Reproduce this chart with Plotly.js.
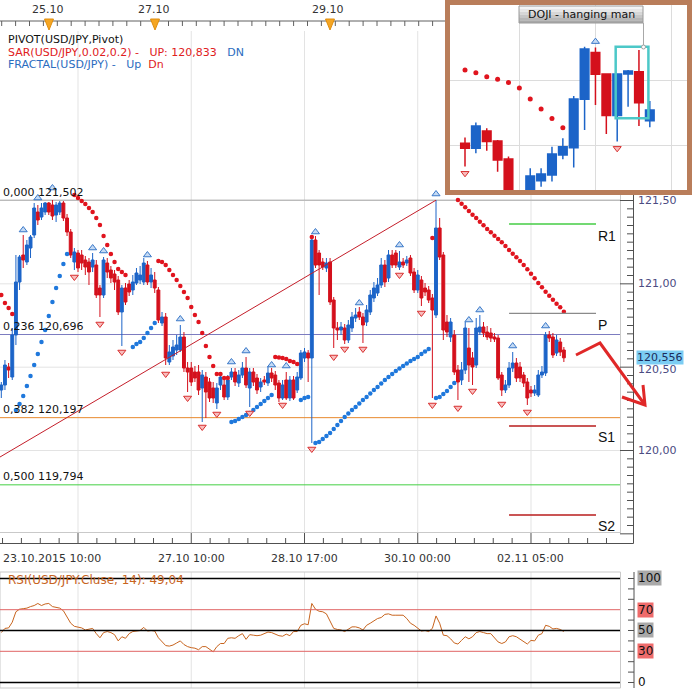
<!DOCTYPE html>
<html><head><meta charset="utf-8">
<script src="https://cdn.plot.ly/plotly-3.0.1.min.js"></script>
<style>html,body{margin:0;padding:0;background:#fff}#chart{width:692px;height:689px}</style>
</head><body><div id="chart"></div>
<script>
// ===================== DATA =====================
const open = [120.363,120.393,120.501,120.441,120.693,121.011,121.173,121.131,121.215,121.293,
121.431,121.401,121.431,121.485,121.473,121.413,121.431,121.485,121.395,121.311,
121.131,121.185,121.173,121.143,121.131,121.101,121.113,120.975,120.933,121.125,
121.083,121.059,121.023,120.831,120.975,120.999,120.963,121.005,121.023,121.011,
121.113,121.011,121.023,120.963,120.765,120.801,120.531,120.567,120.603,120.603,
120.681,120.495,120.495,120.471,120.471,120.375,120.441,120.411,120.375,120.285,
120.393,120.393,120.321,120.441,120.471,120.405,120.453,120.495,120.375,120.471,
120.435,120.381,120.423,120.405,120.465,120.453,120.405,120.315,120.423,120.315,
120.423,120.363,120.435,120.555,120.585,120.555,121.263,121.185,121.131,121.095,
121.131,120.903,120.735,120.723,120.735,120.663,120.735,120.795,120.831,120.801,
120.771,120.831,120.915,120.945,120.993,121.113,121.035,121.173,121.185,121.101,
121.131,121.125,121.155,121.071,120.963,121.023,120.975,120.963,120.915,120.813,
121.335,121.173,120.771,120.681,120.693,120.483,120.423,120.483,120.615,120.555,
120.513,120.711,120.741,120.711,120.705,120.681,120.675,120.453,120.363,120.393,
120.495,120.525,120.501,120.453,120.411,120.363,120.345,120.333,120.453,120.465,
120.693,120.681,120.585,120.651,120.603];
const high = [120.411,120.543,120.525,120.735,121.173,121.173,121.293,121.263,121.293,121.485,
121.473,121.485,121.491,121.491,121.503,121.491,121.497,121.497,121.419,121.329,
121.215,121.203,121.203,121.167,121.155,121.185,121.143,120.993,121.161,121.155,
121.107,121.083,121.047,120.993,121.005,121.023,121.053,121.095,121.107,121.155,
121.137,121.095,121.071,120.981,120.831,120.825,120.633,120.663,120.693,120.753,
120.711,120.531,120.531,120.507,120.513,120.483,120.471,120.435,120.411,120.405,
120.471,120.423,120.453,120.495,120.495,120.483,120.531,120.561,120.495,120.495,
120.459,120.435,120.447,120.507,120.495,120.477,120.423,120.423,120.471,120.447,
120.447,120.471,120.603,120.615,120.603,121.293,121.287,121.203,121.155,121.155,
121.155,120.921,120.771,120.771,120.759,120.783,120.831,120.855,120.861,120.825,
120.873,120.963,121.011,121.035,121.155,121.143,121.203,121.203,121.203,121.197,
121.155,121.167,121.173,121.095,121.083,121.047,121.005,120.987,120.939,121.503,
121.395,121.191,120.813,120.795,120.723,120.513,120.531,120.771,120.735,120.591,
120.795,120.813,120.771,120.747,120.735,120.705,120.693,120.471,120.423,120.531,
120.591,120.555,120.531,120.471,120.435,120.387,120.393,120.483,120.507,120.711,
120.717,120.705,120.693,120.675,120.621];
const low = [120.315,120.363,120.435,120.423,120.633,120.963,121.095,121.113,121.155,121.275,
121.353,121.383,121.413,121.413,121.383,121.371,121.413,121.377,121.287,121.155,
121.083,121.071,121.083,121.053,120.993,121.071,120.915,120.801,120.915,121.035,
121.005,120.963,120.813,120.627,120.873,120.927,120.933,120.993,120.999,120.993,
120.993,120.975,120.945,120.765,120.747,120.513,120.513,120.543,120.573,120.591,
120.471,120.351,120.387,120.411,120.333,120.171,120.195,120.291,120.285,120.249,
120.363,120.303,120.303,120.423,120.387,120.381,120.435,120.375,120.261,120.387,
120.339,120.351,120.393,120.387,120.411,120.363,120.291,120.303,120.303,120.297,
120.303,120.345,120.423,120.531,120.411,120.045,121.095,120.933,121.083,121.071,
120.873,120.615,120.663,120.693,120.639,120.645,120.711,120.771,120.783,120.645,
120.747,120.813,120.891,120.927,120.975,120.981,121.011,121.095,121.095,121.083,
121.095,121.107,121.047,120.945,120.945,120.867,120.927,120.885,120.315,120.795,
121.143,120.663,120.681,120.651,120.453,120.303,120.393,120.459,120.411,120.393,
120.495,120.693,120.681,120.663,120.651,120.651,120.423,120.327,120.345,120.375,
120.471,120.411,120.411,120.381,120.273,120.321,120.327,120.321,120.435,120.447,
120.651,120.555,120.567,120.567,120.531];
const close = [120.393,120.513,120.483,120.693,121.011,121.161,121.143,121.233,121.281,121.455,
121.383,121.455,121.485,121.431,121.407,121.473,121.485,121.395,121.311,121.173,
121.191,121.095,121.125,121.101,121.071,121.143,120.933,120.933,121.143,121.071,
121.035,121.011,120.831,120.975,120.891,120.951,121.011,121.065,121.053,121.125,
121.011,121.053,120.975,120.783,120.801,120.555,120.591,120.621,120.633,120.681,
120.495,120.471,120.411,120.435,120.363,120.453,120.351,120.315,120.315,120.375,
120.441,120.321,120.423,120.471,120.411,120.453,120.495,120.393,120.471,120.411,
120.363,120.411,120.411,120.465,120.435,120.393,120.315,120.393,120.315,120.423,
120.315,120.441,120.585,120.591,120.555,121.263,121.113,121.113,121.101,121.125,
120.891,120.735,120.723,120.741,120.663,120.753,120.801,120.813,120.801,120.753,
120.843,120.933,120.975,120.993,121.113,121.011,121.173,121.113,121.113,121.131,
121.113,121.143,121.065,120.963,121.053,120.915,120.951,120.903,120.843,121.335,
121.161,120.723,120.711,120.771,120.471,120.411,120.483,120.735,120.513,120.501,
120.735,120.741,120.705,120.681,120.675,120.669,120.435,120.363,120.393,120.495,
120.525,120.435,120.435,120.405,120.315,120.345,120.363,120.453,120.471,120.693,
120.675,120.573,120.663,120.591,120.556];

const sarRedBar = [0,1,2,3,20,21,22,23,24,25,26,27,28,29,30,31,32,33,34,
43,44,45,46,47,48,49,50,51,52,53,54,55,56,57,58,59,60,61,62,
75,76,77,78,79,80,81,85,118,
125,126,127,128,129,130,131,132,133,134,135,136,137,138,139,140,141,142,143,144,145,146,147,148,149,150,151,152,153,154];
const sarRedVal = [120.933,120.885,120.855,120.819,
121.533,121.515,121.497,121.479,121.455,121.431,121.395,121.353,121.287,121.233,121.179,121.131,121.089,121.071,121.053,
121.137,121.131,121.113,121.083,121.053,121.023,120.987,120.951,120.915,120.861,120.813,120.771,120.705,120.627,120.561,120.507,120.459,120.459,120.435,120.435,
120.561,120.558,120.555,120.549,120.537,120.531,120.519,121.281,121.275,
121.503,121.481,121.459,121.437,121.415,121.395,121.373,121.351,121.329,121.309,121.289,121.269,121.249,121.227,121.203,121.181,121.159,121.137,121.113,121.087,121.061,121.033,121.005,120.979,120.953,120.929,120.905,120.881,120.859,120.833];

const sarBlueBar = [4,5,6,7,8,9,10,11,12,13,14,15,16,17,18,
36,37,38,39,40,41,42,
63,64,65,66,67,68,69,70,71,72,73,74,
82,83,84,
86,87,88,89,90,91,92,93,94,95,96,97,98,99,100,101,102,103,104,105,106,107,108,109,110,111,112,113,114,115,116,117,
119,120,121,122,123,124];
const sarBlueVal = [120.243,120.279,120.327,120.387,120.447,120.513,120.579,120.651,120.723,120.807,120.891,120.975,121.047,121.119,121.179,
120.621,120.639,120.651,120.675,120.705,120.735,120.765,
120.171,120.177,120.189,120.201,120.213,120.225,120.243,120.261,120.279,120.297,120.315,120.333,
120.303,120.315,120.321,
120.045,120.051,120.069,120.087,120.105,120.129,120.153,120.177,120.201,120.222,120.243,120.261,120.282,120.303,120.321,120.342,120.363,120.381,120.402,120.423,120.441,120.459,120.477,120.492,120.507,120.522,120.537,120.549,120.561,120.579,120.594,120.609,
120.315,120.321,120.339,120.357,120.381,120.405];

const fracUpBar = [6,10,14,25,28,40,49,63,67,74,78,86,98,109,119,128,131,140,149];
const fracUpVal = [121.323,121.515,121.575,121.215,121.197,121.173,120.789,120.531,120.597,120.513,120.507,121.311,120.885,121.233,121.539,120.783,120.843,120.627,120.747];
const fracDnBar = [20,27,33,45,51,55,59,68,77,85,91,94,99,109,115,118,125,129,137,144];
const fracDnVal = [121.041,120.759,120.591,120.459,120.315,120.141,120.219,120.225,120.273,120.009,120.561,120.609,120.609,121.053,120.825,120.273,120.255,120.357,120.279,120.231];

const rsi = [48,52,52.5,58,68,70.5,71,71.5,73,74, 76,74,75.5,76,73,72,71.5,69,63,57,
54,53.5,52.5,50.5,51,52,47,43,48,49, 48,46,40,44,42.5,47,49,49.5,50,53,
49.5,50,49.5,43,39,35.5,35,36,38,40, 36.5,34.5,33.5,33,31.5,34.5,34.5,32,29.5,34.5,
37.5,37.5,42.5,43,42.5,45,47,41.5,46,45.5, 45,45.5,47,48.5,48,46.5,45,44.5,46.5,45,
49,49,55,56.5,55.5,76,70.5,68.5,68,66, 59,52,51,50.5,49,51.5,53.5,53.5,52.5,50.5,
55,57,59,61.5,62.5,65.5,66,64.7,64.7,64.7, 64.7,61.5,57,55,52,49.5,50,49,52,64,
57,45.5,45,42,38,37,40.5,44,42,44, 48,49,48,47,47,43.5,39,37.5,39,44,
45,44,41.5,39.5,37,40.5,40,45.5,47,55, 54,51.5,52,51,49.04];
const rsiLevels = [100,70,50,30,0];

const timeTickBars = [21,52,83,114,145];
const timeTickLabels = ['23.10.2015 10:00','27.10 10:00','28.10 17:00','30.10 00:00','02.11 05:00'];
const priceTicks = [120.0,120.5,121.0,121.5];
const priceTickLabels = ['120,00','120,50','121,00','121,50'];
const fibRatios = ['0,000','0,236','0,382','0,500'];
const fibPrices = [121.502,120.696,120.197,119.794];
const pivotNames = ['R1','P','S1','S2'];
const pivotPrices = [121.359,120.823,120.147,119.613];
const pivotBars = [139.0,162.8];
const trendBars = [-0.36,119.0];
const trendPrices = [119.961,121.502];
const topDates = ['25.10','27.10','29.10'];

// inset (pattern window)
const insetX = [0,1,2,3,4,6,7,8,9,10,11,12,13,14,15,16,17];
const insetO = [120.518,120.479,120.613,120.536,120.397,120.131,120.229,120.273,120.428,120.484,120.858,121.219,121.054,120.732,121.054,121.072,120.693];
const insetH = [120.562,120.678,120.634,120.544,120.415,120.325,120.325,120.492,120.557,120.884,121.265,121.258,121.059,121.059,121.085,121.239,120.845];
const insetL = [120.338,120.441,120.461,120.299,120.028,120.080,120.183,120.222,120.394,120.330,120.621,120.814,120.590,120.531,120.801,120.652,120.642];
const insetC = [120.479,120.652,120.531,120.389,120.054,120.265,120.281,120.436,120.492,120.861,121.247,121.051,120.732,121.054,121.077,120.832,120.776];
const insetSarX = [0,1,2,3,4,5,6,7,8,9];
const insetSarVal = [121.085,121.064,121.033,121.013,120.987,120.946,120.861,120.783,120.709,120.639];
const insetFracUpX = [12], insetFracUpVal = [121.304];
const insetFracDnX = [0,14], insetFracDnVal = [120.286,120.479];
const dojiBoxX = [13.86,16.87], dojiBoxY = [120.711,121.265];

// ===================== GEOMETRY =====================
const W=692,H=689;
const PLOT_R=621, MAIN_T=31, MAIN_B=533, RSI_T=572, RSI_B=688;
const X0=-0.356, X1=169.64, Y_TOP=122.517, Y_BOT=119.505, R_TOP=106.25, R_BOT=-5.29;
const px=v=>v/W, py=v=>1-v/H;
const xPix=b=>(b-X0)/(X1-X0)*PLOT_R;
const yPix=p=>MAIN_T+(Y_TOP-p)/(Y_TOP-Y_BOT)*(MAIN_B-MAIN_T);
const rPix=v=>RSI_T+(R_TOP-v)/(R_TOP-R_BOT)*(RSI_B-RSI_T);
const fmt=(v,d)=>v.toFixed(d).replace('.',',');

const BLUE='#1c64c8', RED='#d4101c';
const bars = open.map((_,i)=>i);
const upMarker={symbol:'triangle-up',size:7,color:'#c4daf4',line:{color:'#3a78c8',width:1}};
const dnMarker={symbol:'triangle-down',size:7,color:'#f8bcbc',line:{color:'#d83030',width:1}};

// ===================== TRACES =====================
const traces = [
 {type:'candlestick',x:bars,open:open,high:high,low:low,close:close,xaxis:'x',yaxis:'y',
  whiskerwidth:0,increasing:{line:{color:BLUE,width:1},fillcolor:BLUE},
  decreasing:{line:{color:RED,width:1},fillcolor:RED},hoverinfo:'skip'},
 {type:'scatter',mode:'lines',x:trendBars,y:trendPrices,xaxis:'x',yaxis:'y',line:{color:'#c41e2a',width:1},hoverinfo:'skip'},
 {type:'scatter',mode:'markers',x:sarRedBar,y:sarRedVal,xaxis:'x',yaxis:'y',marker:{color:'#e0141e',size:4.5},hoverinfo:'skip'},
 {type:'scatter',mode:'markers',x:sarBlueBar,y:sarBlueVal,xaxis:'x',yaxis:'y',marker:{color:'#1f78dc',size:4.5},hoverinfo:'skip'},
 {type:'scatter',mode:'markers',x:fracUpBar,y:fracUpVal,xaxis:'x',yaxis:'y',marker:upMarker,hoverinfo:'skip'},
 {type:'scatter',mode:'markers',x:fracDnBar,y:fracDnVal,xaxis:'x',yaxis:'y',marker:dnMarker,hoverinfo:'skip'},
 {type:'scatter',mode:'lines',x:bars,y:rsi,xaxis:'x3',yaxis:'y3',line:{color:'#c8641e',width:1},hoverinfo:'skip'},
 {type:'candlestick',x:insetX,open:insetO,high:insetH,low:insetL,close:insetC,xaxis:'x4',yaxis:'y4',
  whiskerwidth:0,increasing:{line:{color:BLUE,width:1.5},fillcolor:BLUE},
  decreasing:{line:{color:RED,width:1.5},fillcolor:RED},hoverinfo:'skip'},
 {type:'scatter',mode:'markers',x:insetSarX,y:insetSarVal,xaxis:'x4',yaxis:'y4',marker:{color:'#e0141e',size:5},hoverinfo:'skip'},
 {type:'scatter',mode:'markers',x:insetFracUpX,y:insetFracUpVal,xaxis:'x4',yaxis:'y4',marker:upMarker,hoverinfo:'skip'},
 {type:'scatter',mode:'markers',x:insetFracDnX,y:insetFracDnVal,xaxis:'x4',yaxis:'y4',marker:dnMarker,hoverinfo:'skip'}
];

// ===================== SHAPES =====================
const shapes=[];
function L(x0,y0,x1,y1,color,width,extra){shapes.push(Object.assign({type:'line',xref:'paper',yref:'paper',x0:px(x0),y0:py(y0),x1:px(x1),y1:py(y1),line:{color:color,width:width}},extra||{}));}
function R(x0,y0,x1,y1,fill,lineColor,lw,extra){shapes.push(Object.assign({type:'rect',xref:'paper',yref:'paper',x0:px(x0),y0:py(y0),x1:px(x1),y1:py(y1),fillcolor:fill,line:{color:lineColor,width:lw}},extra||{}));}
const below={layer:'below'};

// main grid
timeTickBars.forEach(b=>{const x=xPix(b); L(x,MAIN_B,x,x>445?195:MAIN_T,'#e3e3e3',1,below);});
priceTicks.forEach(p=>L(0,yPix(p),620,yPix(p),'#e3e3e3',1,below));
L(620.5,195,620.5,MAIN_B,'#c9c9c9',1); L(0,532.5,620.5,532.5,'#c9c9c9',1);
// fibonacci lines
const fibColors=['#a6a6a6','#7c7cc0','#e8892c','#44d044'];
fibPrices.forEach((p,i)=>L(0,yPix(p),620,yPix(p),fibColors[i],1,below));
// pivots
const pivColors=['#44cc44','#8a8a8a','#b81c1c','#b81c1c'];
pivotPrices.forEach((p,i)=>L(xPix(pivotBars[0]),yPix(p),xPix(pivotBars[1]),yPix(p),pivColors[i],1.3));
// right price axis
L(633.5,195,633.5,543.5,'#505050',1);
for(let k=0;k<=42;k++){const v=119.45+0.05*k; const yp=yPix(v); if(yp<197||yp>541) continue;
  const maj=Math.abs(v*2-Math.round(v*2))<1e-6; L(maj?620:627,yp,633.5,yp,'#505050',1);}
// bottom time axis
L(0,543.5,633.5,543.5,'#505050',1);
for(let k=-4;k<=30;k++){const b=timeTickBars[0]+k*31/6; const x=xPix(b); if(x<0||x>620) continue;
  const maj=(k%6===0); L(x,maj?533:538,x,543.5,'#505050',1);}
// RSI panel
timeTickBars.forEach(b=>{const x=xPix(b); L(x,RSI_T,x,RSI_B,'#e3e3e3',1,below);});
R(0,RSI_T,620.5,RSI_B,'rgba(0,0,0,0)','#c9c9c9',1);
const lvlColors=['#000','#e06464','#000','#e06464','#000'], lvlW=[1.5,1,1.5,1,1.5];
rsiLevels.forEach((v,i)=>L(0,rPix(v),620,rPix(v),lvlColors[i],lvlW[i]));
L(634,RSI_T,634,RSI_B,'#505050',1);
for(let v=0;v<=100;v+=10){L(628,rPix(v),634,rPix(v),'#505050',1);}
// top overview strip
L(0,21,445,21,'#606060',1);
for(let x=1.7;x<445;x+=13.9){L(x,21,x,26,'#606060',1);}
[49,155,330].forEach(cx=>shapes.push({type:'path',xref:'paper',yref:'paper',
  path:`M${px(cx-4.5)},${py(19)} L${px(cx+4.5)},${py(19)} L${px(cx)},${py(30)} Z`,fillcolor:'#f5a623',line:{color:'#e08e10',width:1}}));
// red arrow
const P=(x,y)=>`${px(x)},${py(y)}`;
shapes.push({type:'path',xref:'paper',yref:'paper',path:`M${P(576,355)} L${P(600,343)} L${P(645,405)}`,line:{color:'#e02828',width:3}});
shapes.push({type:'path',xref:'paper',yref:'paper',path:`M${P(622,397)} L${P(645,405)} L${P(643,385)}`,line:{color:'#e02828',width:3}});
// inset decorations
shapes.push({type:'rect',xref:'x4',yref:'y4',x0:dojiBoxX[0],x1:dojiBoxX[1],y0:dojiBoxY[0],y1:dojiBoxY[1],line:{color:'#4cc8c8',width:2.5}});
L(643.5,23,643.5,47,'#a8a8a8',1);
shapes.push({type:'circle',xref:'paper',yref:'paper',x0:px(641.5),x1:px(645.5),y0:py(45),y1:py(49),fillcolor:'#fff',line:{color:'#a0a0a0',width:1}});
const bandCols=['#f4f4f4','#e6e6e6','#d6d6d6','#c6c6c6','#b6b6b6','#a8a8a8'];
bandCols.forEach((c,i)=>R(519,6+i*17/6,643,6+(i+1)*17/6,c,c,0));
R(519,6,643,23,'rgba(0,0,0,0)','#9a9a9a',1);
R(447.5,2.5,689.5,192.5,'rgba(0,0,0,0)','#b97d5a',5);

// ===================== ANNOTATIONS =====================
const FONT='DejaVu Sans';
const ann=[];
function A(text,x,y,o){ann.push(Object.assign({text:text,xref:'paper',yref:'paper',x:px(x),y:py(y),showarrow:false,
  xanchor:'left',yanchor:'middle',font:{family:FONT,size:11,color:'#111'}},o||{}));}
const nb='\u00a0';
const legFont={family:FONT,size:11,color:'#111'};
A('PIVOT(USD/JPY,Pivot)',6,40,{font:legFont});
A(`<span style="color:#e0201c">SAR(USD/JPY,0.02,0.2) -${nb}${nb}${nb}UP: ${fmt(sarRedVal[sarRedVal.length-1],3)}</span>${nb}${nb}${nb}<span style="color:#2a6cc0">DN</span>`,6,52.5,{font:legFont});
A(`<span style="color:#2a6cc0">FRACTAL(USD/JPY) -${nb}${nb}${nb}Up</span>${nb}${nb}<span style="color:#e0201c">Dn</span>`,6,65,{font:legFont});
fibPrices.forEach((p,i)=>A(fibRatios[i]+' '+fmt(p,3),1,yPix(p)+0.5,{yanchor:'bottom'}));
pivotNames.forEach((n,i)=>A(n,596,yPix(pivotPrices[i])+1.5,{yanchor:'top',font:{family:'Liberation Sans',size:14,color:'#111'}}));
priceTicks.forEach((p,i)=>A(priceTickLabels[i],636,yPix(p)+(p===120.5?2:0),{font:{family:FONT,size:11,color:'#4b4b82'}}));
A(fmt(close[close.length-1],3),636,yPix(close[close.length-1]),{bgcolor:'#7ccdf3',borderpad:0,font:{family:FONT,size:11,color:'#1b2b5b'}});
timeTickBars.forEach((b,i)=>A(timeTickLabels[i],i===0?1:xPix(b),558,{xanchor:i===0?'left':'center',font:{family:FONT,size:11,color:'#333'}}));
[48,154,328].forEach((x,i)=>A(topDates[i],x,10,{xanchor:'center',font:{family:FONT,size:11,color:'#333'}}));
A('RSI(USD/JPY.Cluse, 14): '+fmt(rsi[rsi.length-1],2),6,580,{font:{family:FONT,size:12,color:'#c8641e'}});
const rsiBg=['#a9a9a9','#ef6b6b','#a9a9a9','#ef6b6b',null];
rsiLevels.forEach((v,i)=>{const o={font:{family:FONT,size:12,color:'#111'},borderpad:0};
  if(rsiBg[i]) o.bgcolor=rsiBg[i]; A(String(v),637,rPix(v),o);});
A('DOJI - hanging man',581,14.5,{xanchor:'center',font:{family:FONT,size:11,color:'#111'}});

// ===================== LAYOUT =====================
const noAx={showgrid:false,zeroline:false,showticklabels:false,ticks:'',showline:false,fixedrange:true};
const layout={
  width:W,height:H,margin:{l:0,r:0,t:0,b:0},paper_bgcolor:'#fff',plot_bgcolor:'#fff',
  showlegend:false,hovermode:false,dragmode:false,boxgap:0.12,boxgroupgap:0.1,
  xaxis:Object.assign({},noAx,{domain:[0,PLOT_R/W],range:[X0,X1],anchor:'y',rangeslider:{visible:false}}),
  yaxis:Object.assign({},noAx,{domain:[py(MAIN_B),py(MAIN_T)],range:[Y_BOT,Y_TOP],anchor:'x'}),
  xaxis3:Object.assign({},noAx,{domain:[0,PLOT_R/W],range:[X0,X1],anchor:'y3'}),
  yaxis3:Object.assign({},noAx,{domain:[py(RSI_B),py(RSI_T)],range:[R_BOT,R_TOP],anchor:'x3'}),
  xaxis4:Object.assign({},noAx,{domain:[px(450),px(687)],range:[-1.38,20.42],anchor:'y4',rangeslider:{visible:false},
     showgrid:true,gridcolor:'#dcdcdc',tickmode:'array',tickvals:[5,12,19]}),
  yaxis4:Object.assign({},noAx,{domain:[py(190),py(5)],range:[120.157,121.587],anchor:'x4',
     showgrid:true,gridcolor:'#dcdcdc',tickmode:'array',tickvals:[120.5,121.0]}),
  shapes:shapes,annotations:ann
};
Plotly.newPlot('chart',traces,layout,{staticPlot:true,displayModeBar:false});
</script></body></html>
